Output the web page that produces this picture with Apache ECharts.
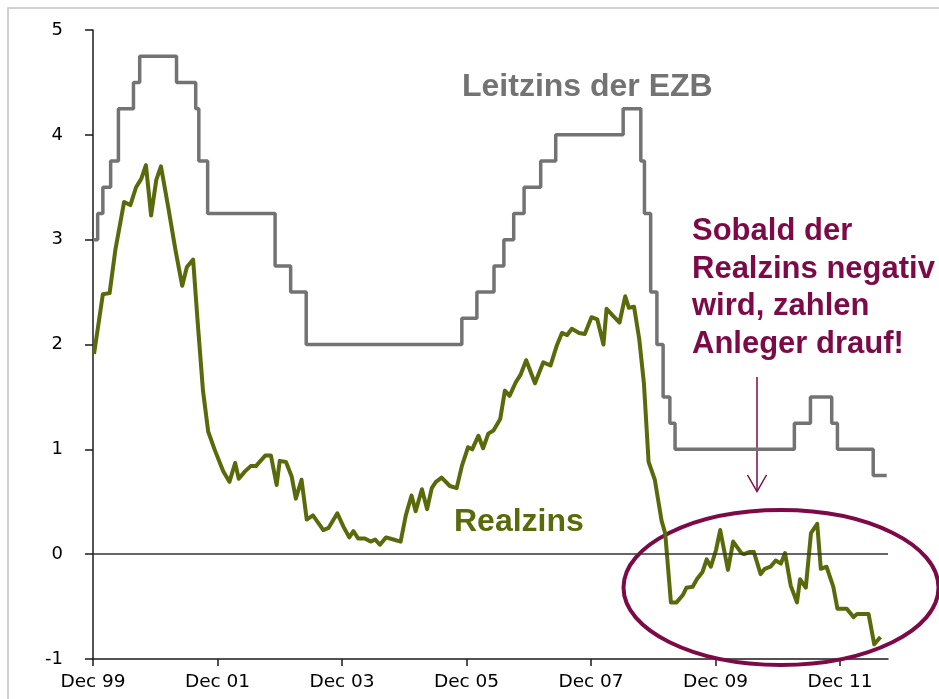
<!DOCTYPE html>
<html>
<head>
<meta charset="utf-8">
<title>Leitzins und Realzins</title>
<script src="https://cdn.jsdelivr.net/npm/echarts@6.0.0/dist/echarts.min.js"></script>
<style>
	html, body { margin: 0; padding: 0; background: #fff; }
	#chartmain { width: 939px; height: 699px; }
</style>
</head>
<body>
<div id="chartmain"></div>
<script>
// x-Werte = Monate seit Dec 99
var tickLabels = ['Dec 99', 'Dec 01', 'Dec 03', 'Dec 05', 'Dec 07', 'Dec 09', 'Dec 11'];
var tickStep = 24;

// Leitzins der EZB (Zeitpunkt der Aenderung, neuer Satz)
var ezbMonths = [0, 0.9, 1.9, 3.4, 4.9, 7.8, 9.0, 16.1, 19.8, 20.4, 22.1, 35.1, 38.1, 41.1, 71.1, 74.0, 77.3, 79.2, 81.1, 83.1, 86.3, 89.2,
	102.2, 105.6, 106.3, 107.5, 108.7, 109.9, 111.2, 112.2, 135.2, 138.3, 142.4, 143.5, 150.4, 153.0];
var ezbRates = [3.0, 3.25, 3.5, 3.75, 4.25, 4.5, 4.75, 4.5, 4.25, 3.75, 3.25, 2.75, 2.5, 2.0, 2.25, 2.5, 2.75, 3.0, 3.25, 3.5, 3.75, 4.0,
	4.25, 3.75, 3.25, 2.5, 2.0, 1.5, 1.25, 1.0, 1.25, 1.5, 1.25, 1.0, 0.75, 0.75];

// Realzins
var realMonths = [0.2, 1.9, 3.2, 4.3, 6.0, 7.2, 8.3, 9.3, 10.2, 11.2,
	12.2, 13.1, 14.5, 15.9, 17.2, 18.1, 19.3, 20.2, 21.2, 22.2,
	23.5, 25.1, 26.3, 27.4, 28.1, 29.3, 30.4, 31.4, 33.2, 34.3,
	35.4, 36.0, 37.2, 38.3, 39.1, 40.2, 41.2, 42.4, 44.4, 45.4,
	47.1, 48.3, 49.4, 50.2, 51.1, 52.4, 53.5, 54.4, 55.3, 56.5,
	57.9, 59.3, 60.3, 61.4, 62.2, 63.4, 64.4, 65.3, 66.1, 67.2,
	68.8, 70.1, 71.1, 72.3, 73.1, 74.3, 75.2, 76.2, 77.2, 78.5,
	79.4, 80.3, 81.5, 82.4, 83.5, 85.2, 86.8, 88.2, 89.4, 90.4,
	91.4, 92.3, 93.7, 94.8, 96.1, 97.2, 98.4, 99.0, 100.3, 101.5,
	102.6, 103.3, 104.3, 105.3, 106.2, 107.1, 108.3, 109.6, 110.3, 111.4,
	112.5, 113.7, 114.4, 115.6, 116.4, 117.5, 118.3, 119.1, 120.1, 120.9,
	122.4, 123.4, 125.0, 125.5, 126.5, 127.4, 128.7, 129.5, 130.6, 131.6,
	132.6, 133.4, 134.5, 135.7, 136.3, 137.4, 138.4, 139.6, 140.3, 141.4,
	142.7, 143.5, 145.3, 146.6, 147.3, 149.5, 150.6, 151.8];
var realValues = [1.91, 2.48, 2.49, 2.90, 3.36, 3.33, 3.50, 3.58, 3.71, 3.23,
	3.57, 3.70, 3.31, 2.90, 2.56, 2.74, 2.81, 2.20, 1.56, 1.17,
	0.99, 0.79, 0.69, 0.87, 0.72, 0.79, 0.84, 0.84, 0.94, 0.94,
	0.66, 0.89, 0.88, 0.74, 0.53, 0.71, 0.33, 0.37, 0.23, 0.25,
	0.39, 0.26, 0.16, 0.22, 0.15, 0.15, 0.12, 0.14, 0.09, 0.16,
	0.14, 0.12, 0.37, 0.56, 0.41, 0.62, 0.43, 0.63, 0.69, 0.73,
	0.65, 0.63, 0.84, 1.02, 1.00, 1.13, 1.01, 1.15, 1.18, 1.29,
	1.56, 1.51, 1.64, 1.71, 1.85, 1.63, 1.83, 1.80, 1.99, 2.11,
	2.09, 2.15, 2.11, 2.10, 2.26, 2.24, 2.00, 2.34, 2.27, 2.21,
	2.46, 2.35, 2.36, 2.05, 1.63, 0.88, 0.71, 0.32, 0.20, -0.46,
	-0.46, -0.39, -0.32, -0.31, -0.24, -0.17, -0.05, -0.12, 0.04, 0.23,
	-0.15, 0.12, 0.01, 0.00, 0.02, 0.02, -0.19, -0.14, -0.12, -0.06,
	-0.09, 0.01, -0.30, -0.46, -0.24, -0.32, 0.20, 0.29, -0.14, -0.12,
	-0.31, -0.52, -0.52, -0.60, -0.57, -0.57, -0.86, -0.79];

var grau = '#737373';
var gruen = '#596a0b';
var weinrot = '#7d0a47';

var ezbData = [];
for (var i = 0; i < ezbMonths.length; i++) {
	ezbData.push([ezbMonths[i], ezbRates[i]]);
}
var realData = [];
for (var i = 0; i < realMonths.length; i++) {
	realData.push([realMonths[i], realValues[i]]);
}
var tickValues = [];
for (var i = 0; i < tickLabels.length; i++) {
	tickValues.push(i * tickStep);
}

var option = {
	backgroundColor: '#fff',
	animation: false,
	grid: { left: 93, top: 30, right: 51, bottom: 40 },
	xAxis: {
		type: 'value',
		min: 0,
		max: 153.25,
		axisLine: { onZero: false, lineStyle: { color: '#1a1a1a', width: 1.5 } },
		axisTick: { customValues: tickValues, length: 7, lineStyle: { color: '#1a1a1a', width: 1.5 } },
		axisLabel: {
			customValues: tickValues,
			margin: 14,
			color: '#000',
			fontFamily: 'DejaVu Sans',
			fontSize: 18.5,
			formatter: function (v) {
				return tickLabels[Math.round(v / tickStep)] || '';
			}
		},
		splitLine: { show: false }
	},
	yAxis: {
		type: 'value',
		min: -1,
		max: 5,
		interval: 1,
		axisLine: { show: true, lineStyle: { color: '#1a1a1a', width: 1.5 } },
		axisTick: { show: true, length: 8, lineStyle: { color: '#1a1a1a', width: 1.5 } },
		axisLabel: { margin: 30, color: '#000', fontFamily: 'DejaVu Sans', fontSize: 18 },
		splitLine: { show: false }
	},
	series: [
		{
			name: 'Leitzins der EZB',
			type: 'line',
			step: 'end',
			data: ezbData,
			symbol: 'none',
			lineStyle: { color: grau, width: 3.5 },
			z: 3
		},
		{
			name: 'Realzins',
			type: 'line',
			data: realData,
			symbol: 'none',
			lineStyle: { color: gruen, width: 4, join: 'round' },
			z: 4,
			markLine: {
				silent: true,
				symbol: 'none',
				label: { show: false },
				lineStyle: { color: '#333', width: 1.5, type: 'solid' },
				data: [{ yAxis: 0 }]
			}
		}
	],
	graphic: [
		// heller Rahmen
		{ type: 'polyline', shape: { points: [[8, 720], [8, 8], [960, 8]] }, style: { stroke: '#c4c4c4', lineWidth: 1.5, fill: null }, z: 0 },
		{
			type: 'text', left: 462, top: 71,
			style: { text: 'Leitzins der EZB', fill: grau, font: 'bold 32px "Liberation Sans"', lineHeight: 32 }
		},
		{
			type: 'text', left: 454, top: 506,
			style: { text: 'Realzins', fill: gruen, font: 'bold 32px "Liberation Sans"', lineHeight: 32 }
		},
		{
			type: 'text', left: 692, top: 213,
			style: { text: 'Sobald der\nRealzins negativ\nwird, zahlen\nAnleger drauf!', fill: weinrot, font: 'bold 31px "Liberation Sans"', lineHeight: 37.5 }
		},
		{ type: 'line', shape: { x1: 757, y1: 377, x2: 757, y2: 491 }, style: { stroke: weinrot, lineWidth: 1.5 } },
		{ type: 'polyline', shape: { points: [[747.5, 475], [757, 491.5], [766.5, 475]] }, style: { stroke: weinrot, lineWidth: 1.5, fill: null } },
		{
			type: 'ellipse', shape: { cx: 781, cy: 587.5, rx: 157.5, ry: 77.5 },
			style: { stroke: weinrot, lineWidth: 4, fill: null }, z: 1
		}
	]
};

var myChart = echarts.init(document.getElementById('chartmain'));
myChart.setOption(option);
</script>
</body>
</html>
